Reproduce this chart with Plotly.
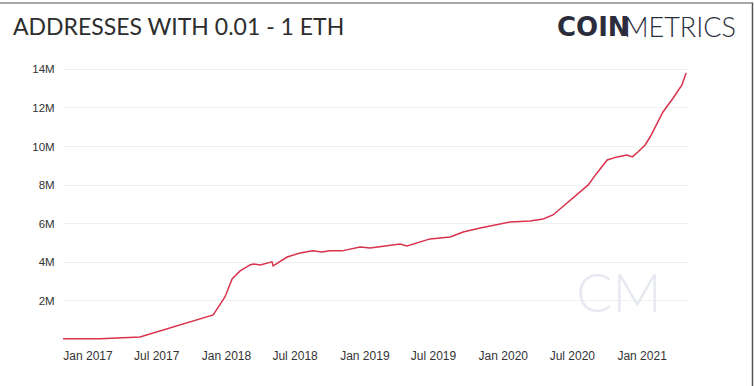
import plotly.graph_objects as go

dates = ["2016-10-27", "2017-02-02", "2017-05-18", "2017-07-28", "2017-09-19", "2017-11-27",
         "2017-12-23", "2017-12-28", "2018-01-16", "2018-02-06", "2018-03-04", "2018-03-12",
         "2018-03-31", "2018-05-01", "2018-05-04", "2018-06-10", "2018-07-14", "2018-08-17",
         "2018-09-10", "2018-10-01", "2018-11-02", "2018-12-19", "2019-01-15", "2019-04-04",
         "2019-04-22", "2019-06-09", "2019-06-22", "2019-08-14", "2019-09-17", "2019-11-01",
         "2019-12-31", "2020-01-19", "2020-03-12", "2020-04-15", "2020-05-11", "2020-07-03",
         "2020-08-12", "2020-09-04", "2020-10-01", "2020-10-27", "2020-11-22", "2020-12-06",
         "2020-12-21", "2021-01-09", "2021-01-22", "2021-02-25", "2021-03-24", "2021-04-16",
         "2021-04-27"]
values = [0.03, 0.03, 0.13, 0.55, 0.86, 1.27,
          2.05, 2.2, 3.13, 3.55, 3.86, 3.91,
          3.86, 4.02, 3.81, 4.27, 4.48, 4.59,
          4.53, 4.59, 4.59, 4.79, 4.74, 4.95,
          4.84, 5.10, 5.21, 5.31, 5.57, 5.78,
          6.04, 6.09, 6.14, 6.24, 6.45, 7.33,
          8.01, 8.63, 9.30, 9.46, 9.56, 9.46,
          9.71, 10.08, 10.49, 11.79, 12.51, 13.19,
          13.81]
y_tickvals = [2, 4, 6, 8, 10, 12, 14]
y_ticktext = ["2M", "4M", "6M", "8M", "10M", "12M", "14M"]
x_tickvals = ["2017-01-01", "2017-07-01", "2018-01-01", "2018-07-01", "2019-01-01",
              "2019-07-01", "2020-01-01", "2020-07-01", "2021-01-01"]
x_ticktext = ["Jan 2017", "Jul 2017", "Jan 2018", "Jul 2018", "Jan 2019",
              "Jul 2019", "Jan 2020", "Jul 2020", "Jan 2021"]

W, H = 754, 386
ml, mr, mt, mb = 63, 66, 50, 46
pw, ph = W - ml - mr, H - mt - mb

def px(x):
    return (x - ml) / pw

def py(y):
    return (H - mb - y) / ph

fig = go.Figure()
fig.add_trace(go.Scatter(x=dates, y=values, mode="lines",
                         line=dict(color="#d9324c", width=1.5), hoverinfo="skip"))

fig.update_layout(
    width=W, height=H,
    margin=dict(l=ml, r=mr, t=mt, b=mb),
    paper_bgcolor="white", plot_bgcolor="white",
    showlegend=False,
    font=dict(family="Liberation Sans, Arial", color="#3a3a3a"),
    xaxis=dict(range=["2016-10-27", "2021-05-02"], tickvals=x_tickvals, ticktext=x_ticktext,
               showgrid=False, zeroline=False, showline=False,
               ticks="outside", ticklen=5, tickcolor="rgba(0,0,0,0)",
               tickfont=dict(size=12, color="#333333")),
    yaxis=dict(range=[-0.03, 15], tickvals=y_tickvals, ticktext=y_ticktext,
               showgrid=True, gridcolor="#f0f0f0", gridwidth=1, zeroline=False, showline=False,
               ticks="outside", ticklen=5, tickcolor="rgba(0,0,0,0)",
               tickfont=dict(size=11.5, color="#333333")),
)

# Title
fig.add_annotation(text="ADDRESSES WITH 0.01 - 1 ETH", xref="paper", yref="paper",
                   x=px(11), y=py(26), xanchor="left", yanchor="middle", showarrow=False,
                   font=dict(family="Lato", size=23, color="#2d2d2d"))
# Logo
fig.add_annotation(text="COIN", xref="paper", yref="paper",
                   x=px(555), y=py(27), xanchor="left", yanchor="middle", showarrow=False,
                   font=dict(family="DejaVu Sans", size=26, color="#2b2d3c", weight=700))
fig.add_annotation(text="METRICS", xref="paper", yref="paper",
                   x=px(738), y=py(27), xanchor="right", yanchor="middle", showarrow=False,
                   font=dict(family="Lato", size=27, color="#2b2d3c", weight=300))
# Watermark
fig.add_annotation(text="CM", xref="paper", yref="paper",
                   x=px(619), y=py(291), xanchor="center", yanchor="middle", showarrow=False,
                   font=dict(family="Lato", size=54, color="#e7e9f1", weight=300))

# Frame lines (top and right)
fig.add_shape(type="line", xref="paper", yref="paper", x0=px(0), x1=px(753), y0=py(3), y1=py(3),
              line=dict(color="#8a8a8a", width=1.5))
fig.add_shape(type="line", xref="paper", yref="paper", x0=px(752.5), x1=px(752.5), y0=py(3), y1=py(386),
              line=dict(color="#555555", width=1.5))

fig.write_html("out.html", config={"displayModeBar": False},
               post_script="document.body.style.margin='0';document.body.style.overflow='hidden';")
